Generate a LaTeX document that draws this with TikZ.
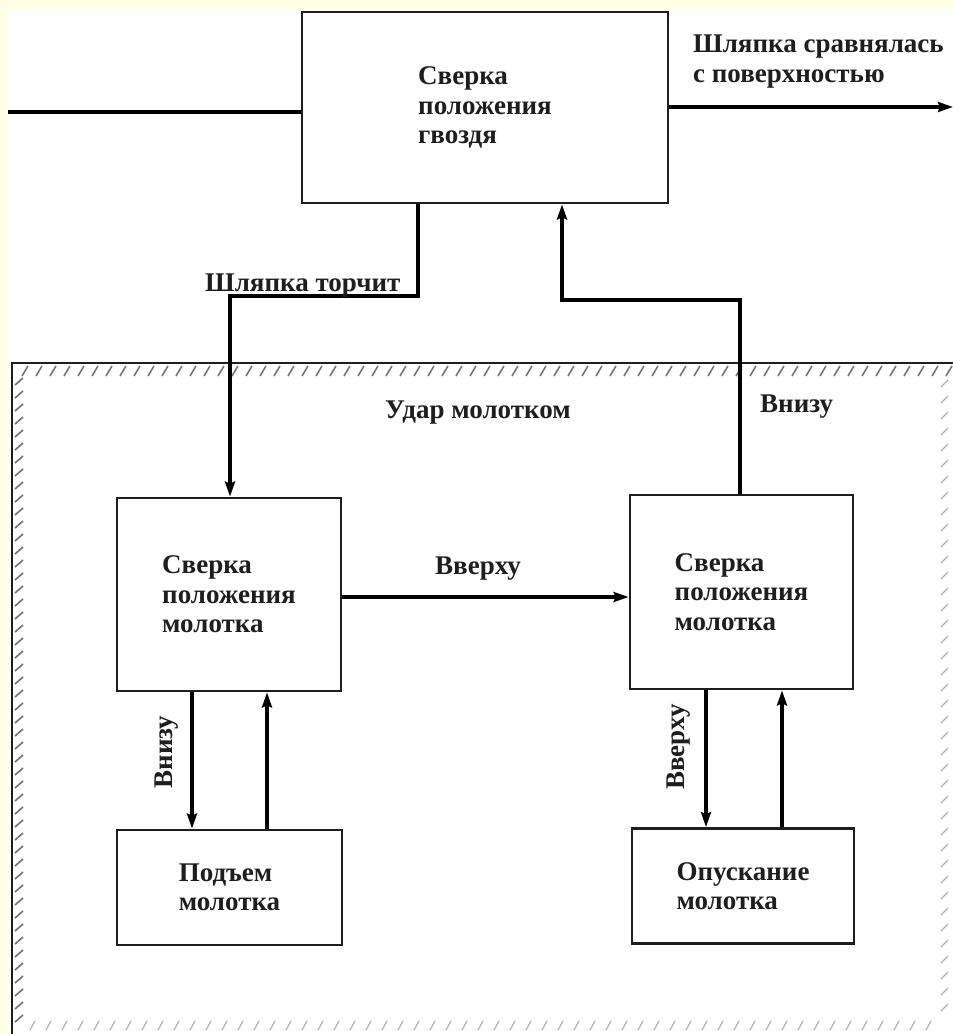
\documentclass[tikz,border=0pt]{standalone}
\usepackage{fontspec}
\setmainfont{Liberation Serif}
\usetikzlibrary{arrows.meta}
\definecolor{paper}{RGB}{255,253,228}
\definecolor{ink}{RGB}{30,30,30}
\tikzset{
  x=1pt, y=-1pt,
  box/.style={draw=ink, line width=2.8pt, rectangle, inner sep=0pt, align=left,
              font=\bfseries\fontsize{27}{29.5}\selectfont, text=ink},
  conn/.style={draw=black, line width=3.6pt},
  arr/.style={conn, -{Stealth[length=15pt,width=10pt,inset=2pt]}},
  lbl/.style={font=\bfseries\fontsize{27}{29.5}\selectfont, text=ink, inner sep=0pt, align=left},
  hatch/.style={draw=black!55, line width=1.6pt},
  fhatch/.style={draw=black!30, line width=1.2pt}
}
\begin{document}
\begin{tikzpicture}
\useasboundingbox (0,0) rectangle (953,1034);
\fill[paper] (0,0) rectangle (953,1034);
\fill[white] (8,9) rectangle (953,1034);

% hatched frame
\draw[draw=ink, line width=2.4pt] (12,1034) -- (12,363) -- (953,363);
\foreach \xx in {22,36,...,946} {\draw[hatch] (\xx,376) -- (\xx+6,366);}
\foreach \yy in {378,391,...,1020} {\draw[hatch] (15,\yy+7) -- (23,\yy);}
\foreach \xx in {30,46,...,940} {\draw[fhatch] (\xx,1030) -- (\xx+5,1021);}
\foreach \yy in {380,396,...,1010} {\draw[fhatch] (941,\yy+7) -- (948,\yy);}

% boxes
\node[box, minimum width=366, minimum height=191] (top) at (485,107.5)
  {Сверка\\положения\\гвоздя};
\node[box, minimum width=224, minimum height=193] (b1) at (229,594.5)
  {Сверка\\положения\\молотка};
\node[box, minimum width=223, minimum height=194] (b2) at (741.5,592)
  {Сверка\\положения\\молотка};
\node[box, minimum width=225, minimum height=115] (b3) at (229.5,887.5)
  {Подъем\\молотка};
\node[box, minimum width=222, minimum height=115] (b4) at (743,886)
  {Опускание\\молотка};

% coordinates
\coordinate (in) at (8,112);
\coordinate (out) at (953,107);
\coordinate (k1) at (418,296);
\coordinate (k2) at (230,296);
\coordinate (r1) at (740,300);
\coordinate (r2) at (562,300);
\coordinate (m) at (0,597);

% connectors
\draw[conn] (in) -- (top.west |- in);
\draw[arr] (top.east |- out) -- (out);
\draw[arr] (top.south -| k1) -- (k1) -- (k2) -- (b1.north -| k2);
\draw[arr] (b2.north -| r1) -- (r1) -- (r2) -- (top.south -| r2);
\draw[arr] (b1.east |- m) -- (b2.west |- m);
\draw[arr] (b1.south -| 192,0) -- (b3.north -| 192,0);
\draw[arr] (b3.north -| 267,0) -- (b1.south -| 267,0);
\draw[arr] (b2.south -| 706,0) -- (b4.north -| 706,0);
\draw[arr] (b4.north -| 782,0) -- (b2.south -| 782,0);

% labels
\node[lbl, anchor=base west] (lout) at (693,82) {Шляпка сравнялась\\с поверхностью};
\node[lbl, anchor=base west] (lt) at (205,291) {Шляпка торчит};
\node[lbl, anchor=base west] (lu) at (385,418) {Удар молотком};
\node[lbl, anchor=base west] (ln) at (760,412) {Внизу};
\node[lbl, anchor=base west] (lv) at (435,574) {Вверху};
\node[lbl, rotate=90] (ln2) at (167,752) {Внизу};
\node[lbl, rotate=90] (lv2) at (679,747) {Вверху};
\end{tikzpicture}
\end{document}
